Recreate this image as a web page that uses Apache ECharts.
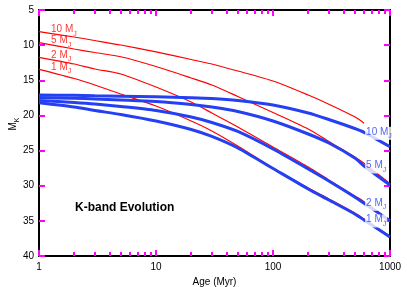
<!DOCTYPE html>
<html><head><meta charset="utf-8">
<script src="https://cdn.jsdelivr.net/npm/echarts@6/dist/echarts.min.js"></script>
<style>html,body{margin:0;padding:0;background:#fff}#c{width:407px;height:287px}</style>
</head><body><div id="c"></div>
<script>
// Age in Myr
const ages = [1, 2, 3, 5, 10, 20, 30, 50, 100, 200, 300, 500, 600, 1000];
// Red models (M_K)
const red10 = [8.09, 8.84, 9.34, 9.98, 10.97, 12.04, 12.68, 13.68, 15.1, 17.1, 18.4, 20.2, 21.1, null];
const red5  = [9.65, 10.55, 11.05, 11.65, 13.04, 14.67, 15.67, 17.3, 19.58, 21.93, 23.7, 25.9, 26.8, 29.7];
const red2  = [11.73, 12.68, 13.39, 14.1, 15.95, 18.09, 19.65, 21.64, 24.49, 27.33, 29.18, 31.46, 32.27, 34.9];
const red1  = [13.44, 14.74, 15.67, 16.95, 18.66, 20.79, 22.21, 24.35, 27.48, 30.32, 31.88, 33.88, 34.73, 37.2];
// Blue models (M_K)
const blue10 = [17.09, 17.14, 17.2, 17.26, 17.35, 17.48, 17.59, 17.87, 18.51, 19.65, 20.58, 21.86, 22.4, 24.45];
const blue5  = [17.45, 17.56, 17.66, 17.8, 18.02, 18.44, 18.8, 19.44, 20.79, 22.64, 23.92, 26.05, 27.19, 29.9];
const blue2  = [17.87, 18.16, 18.37, 18.73, 19.3, 20.22, 21.0, 22.28, 24.77, 27.62, 29.32, 31.6, 32.5, 35.0];
const blue1  = [18.19, 18.8, 19.3, 19.86, 20.79, 22.0, 22.99, 24.63, 27.55, 30.46, 32.03, 34.02, 34.87, 37.3];
const massNames = ['10', '5', '2', '1'];
const xTickLabels = [1, 10, 100, 1000];
const yTicks = [5, 10, 15, 20, 25, 30, 35, 40];

const RED = '#ff0000', BLUE = '#2440f2';
const FONT = 'Liberation Sans, Arial, Helvetica, sans-serif';
const TICK = '#ff00ff';
const pts = arr => ages.map((a, i) => [a, arr[i]]).filter(p => p[1] != null);
const minorVals = [];
for (const d of [1, 10, 100]) for (let k = 2; k <= 9; k++) minorVals.push(k * d);

const reds = [red10, red5, red2, red1];
const blues = [blue10, blue5, blue2, blue1];
const endIdx = ages.indexOf(600);

const rich = {
  m: {fontSize: 10, fontFamily: FONT, verticalAlign: 'top', lineHeight: 12},
  s: {fontSize: 7, fontFamily: FONT, verticalAlign: 'bottom', padding: [6, 0, 0, 0]}
};

const series = [];
reds.forEach(arr => series.push({type: 'line', data: pts(arr), showSymbol: false, smooth: 0.25,
  lineStyle: {color: RED, width: 1.2}, z: 2, silent: true}));
blues.forEach(arr => series.push({type: 'line', data: pts(arr), showSymbol: false, smooth: 0.25,
  lineStyle: {color: BLUE, width: 3}, z: 3, silent: true}));
// Labels
const labelData = [];
reds.forEach((arr, i) => labelData.push({value: [ages[0], arr[0]],
  label: {show: true, formatter: '{m|' + massNames[i] + ' M}{s|J}', position: 'right', distance: 0, offset: [12, -1], color: RED, rich}}));
blues.forEach((arr, i) => labelData.push({value: [ages[endIdx], arr[endIdx]],
  label: {show: true, formatter: '{m|' + massNames[i] + ' M}{s|J}', position: 'right', distance: 1, offset: [0, 1], color: BLUE,
    backgroundColor: '#fff', padding: [0, 1, 0, 1], rich}}));
series.push({type: 'scatter', data: labelData, symbolSize: 0.1, itemStyle: {color: 'rgba(0,0,0,0)'}, z: 6, silent: true});

const axisLine = {show: true, onZero: false, lineStyle: {color: '#000', width: 2}};
const logX = (pos, vals, len, line) => ({type: 'log', logBase: 10, min: 1, max: 1000, position: pos,
  axisLine: line ? axisLine : {show: false}, splitLine: {show: false}, axisLabel: {show: false},
  axisTick: {show: true, inside: true, length: len, lineStyle: {color: TICK, width: 2}, customValues: vals}});
const mainX = logX('bottom', xTickLabels, 6, true);
mainX.axisLabel = {show: true, fontSize: 10, fontFamily: FONT, color: '#000', margin: 6, customValues: xTickLabels, formatter: v => String(v)};
mainX.name = 'Age (Myr)';
mainX.nameLocation = 'middle';
mainX.nameGap = 18;
mainX.nameTextStyle = {fontSize: 10, fontFamily: FONT, color: '#000'};

const option = {
  animation: false,
  backgroundColor: '#fff',
  grid: {left: 39, right: 17, top: 10, bottom: 31, outerBoundsMode: 'none'},
  xAxis: [
    mainX,
    logX('bottom', minorVals, 4, false),
    logX('top', xTickLabels, 6, true),
    logX('top', minorVals, 4, false)
  ],
  yAxis: [
    {type: 'value', inverse: true, min: 5, max: 40, interval: 5, position: 'left', axisLine, splitLine: {show: false},
      axisTick: {show: true, inside: true, length: 6, lineStyle: {color: TICK, width: 2}},
      axisLabel: {fontSize: 10, fontFamily: FONT, color: '#000', margin: 5},
      name: '{m|M}{s|K}', nameLocation: 'middle', nameGap: 18, nameMoveOverlap: false,
      nameTextStyle: {color: '#000', padding: [0, 0, 0, 18], rich: {
        m: {fontSize: 10, fontFamily: FONT, verticalAlign: 'top', lineHeight: 12, color: '#000'},
        s: {fontSize: 7, fontFamily: FONT, verticalAlign: 'bottom', padding: [6, 0, 0, 0], color: '#000'}}}},
    {type: 'value', inverse: true, min: 5, max: 40, interval: 5, position: 'right', axisLine, splitLine: {show: false},
      axisTick: {show: true, inside: true, length: 6, lineStyle: {color: TICK, width: 2}},
      axisLabel: {show: false}}
  ],
  graphic: [{type: 'text', left: 75, top: 202, style: {text: 'K-band Evolution', font: 'bold 12px ' + FONT, fill: '#000'}}],
  series
};
echarts.init(document.getElementById('c'), null, {renderer: 'canvas'}).setOption(option);
</script></body></html>
